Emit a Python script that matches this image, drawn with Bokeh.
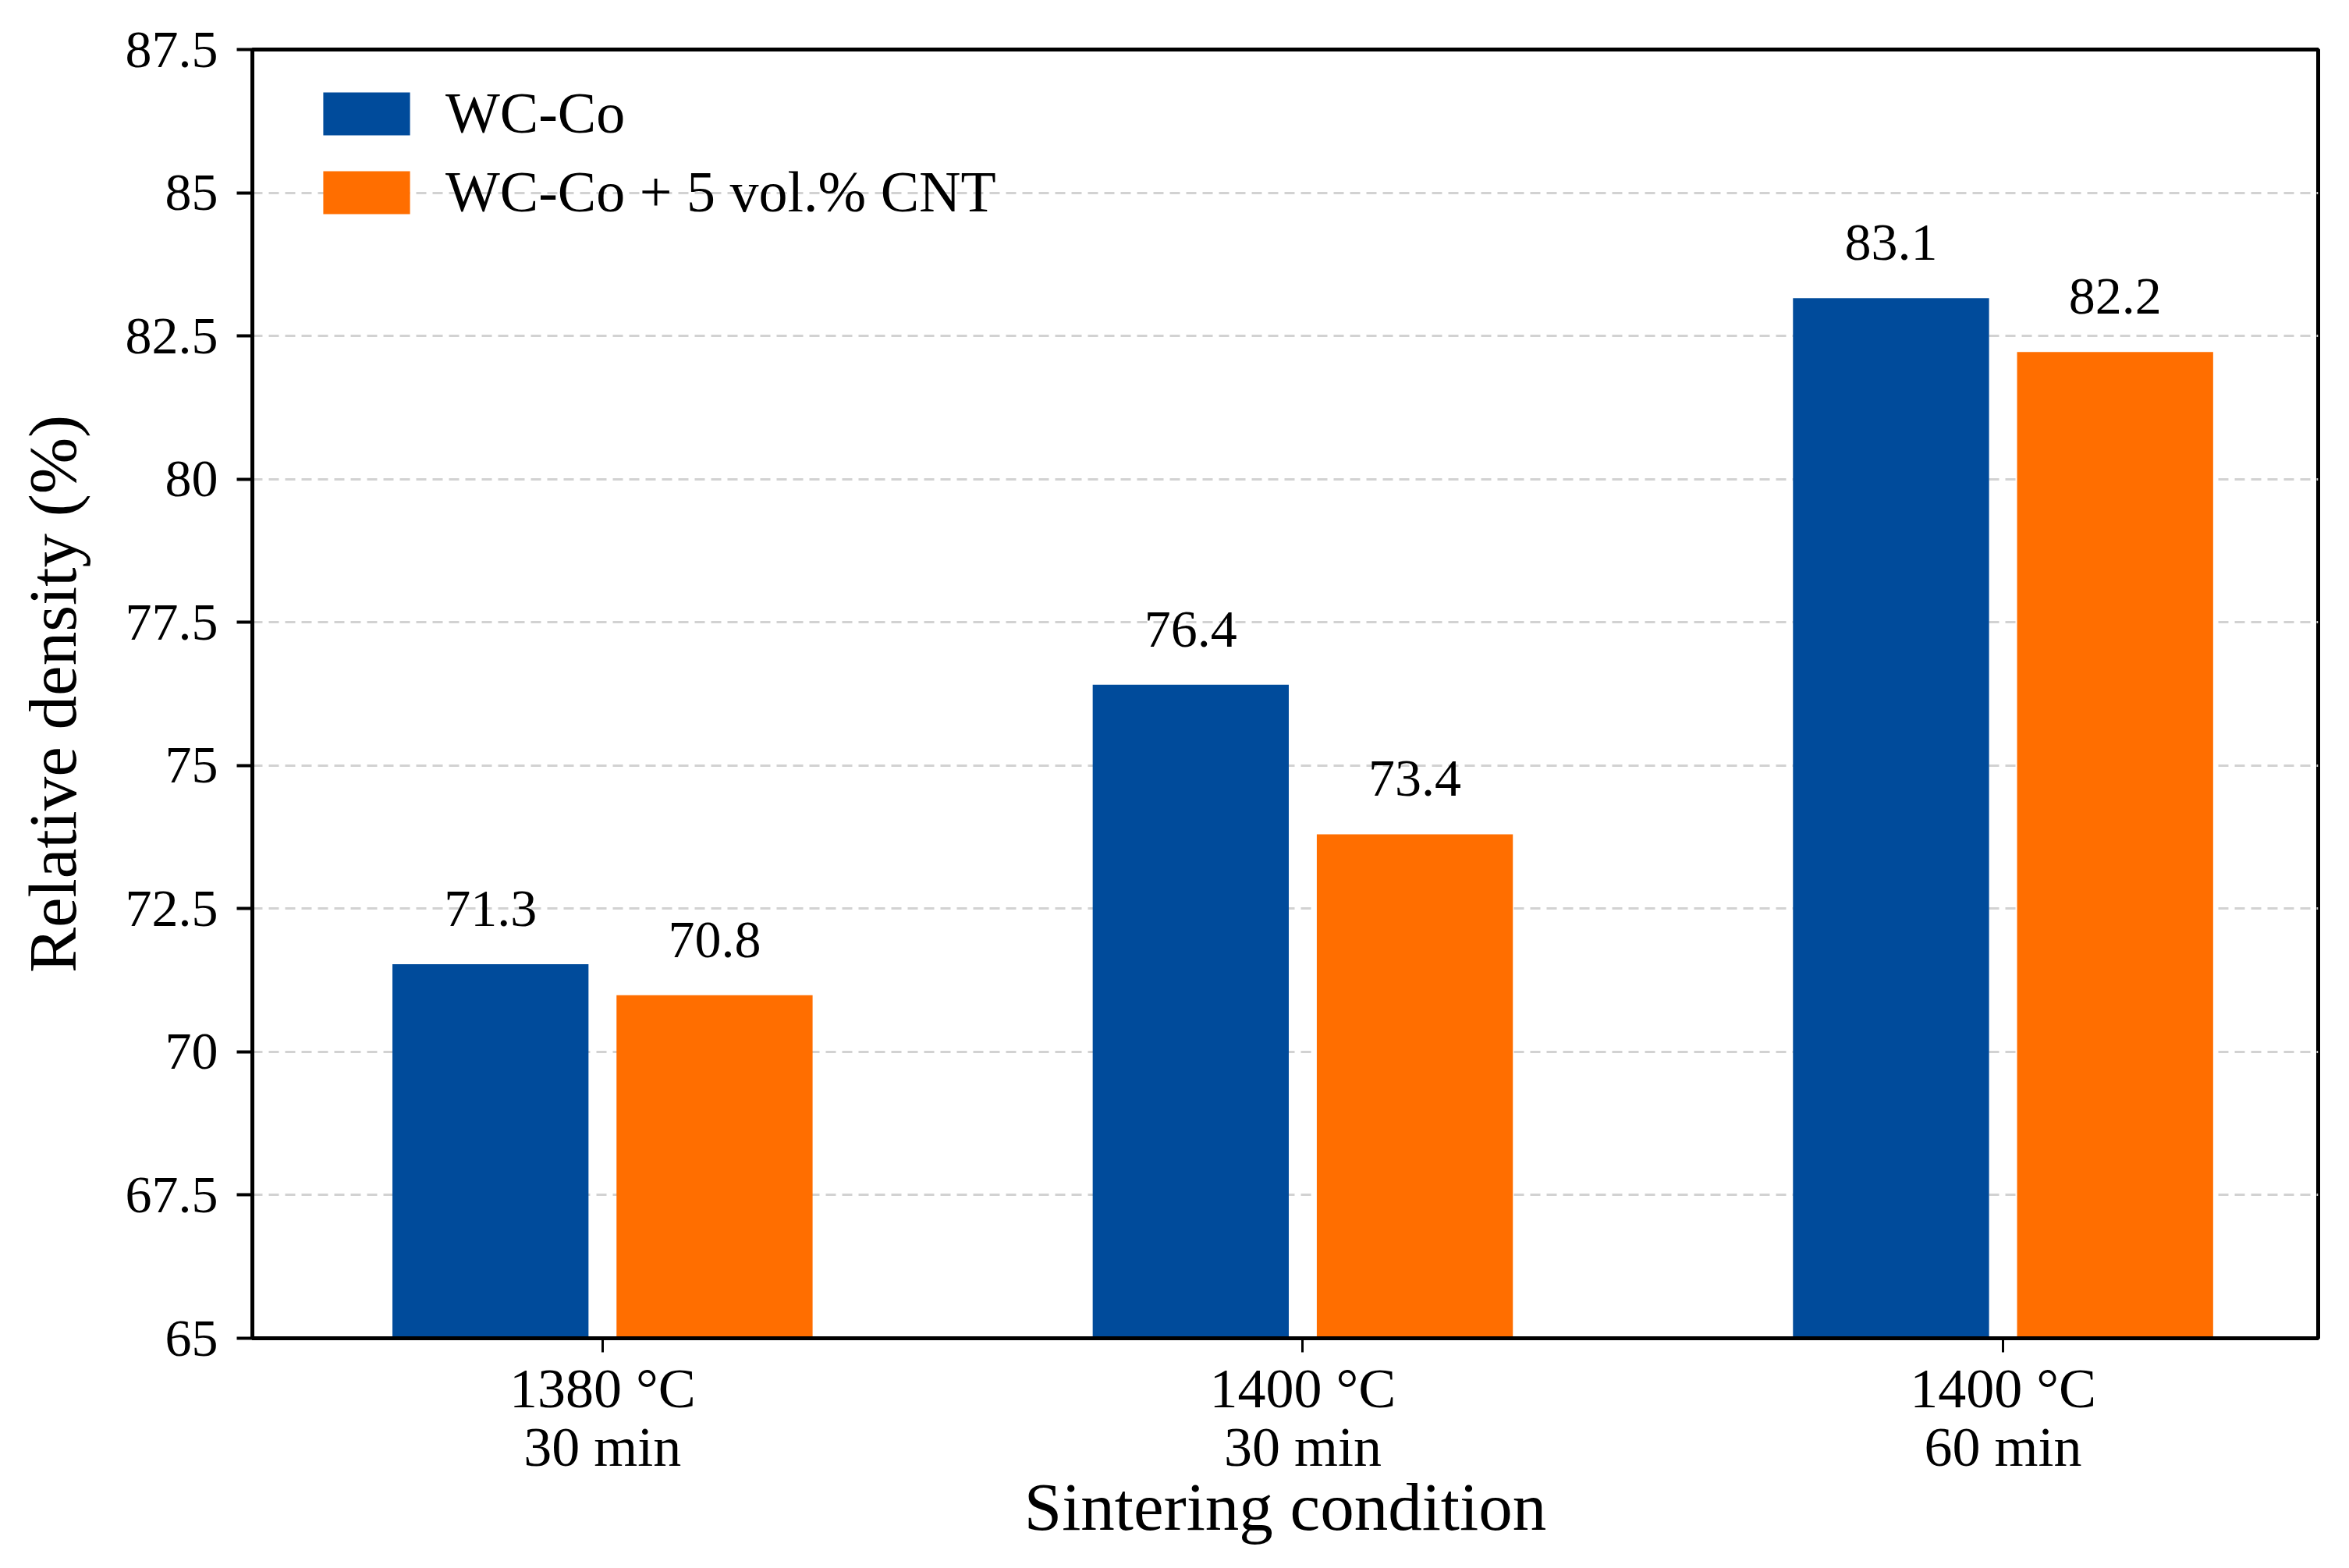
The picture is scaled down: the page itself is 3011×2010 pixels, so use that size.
from bokeh.plotting import figure
from bokeh.models import Range1d, FixedTicker, Legend, LegendItem, ColumnDataSource
from bokeh.transform import dodge
from bokeh.core.properties import value
from bokeh.embed import file_html
from bokeh.resources import INLINE

# ---- data ----
conditions = ["1380 °C\n30 min", "1400 °C\n30 min", "1400 °C\n60 min"]
series_names = ["WC-Co", "WC-Co + 5 vol.% CNT"]
wc_co = [71.53, 76.41, 83.16]
wc_co_cnt = [70.99, 73.80, 82.22]
wc_co_labels = ["71.3", "76.4", "83.1"]
wc_co_cnt_labels = ["70.8", "73.4", "82.2"]
y_ticks = [65, 67.5, 70, 72.5, 75, 77.5, 80, 82.5, 85, 87.5]
x_label = "Sintering condition"
y_label = "Relative density (%)"

# ---- style ----
FONT = "Liberation Serif"
BLUE = "#004B9B"
ORANGE = "#FF6E00"

pos = list(range(len(conditions)))
src = ColumnDataSource(dict(x=pos, a=wc_co, b=wc_co_cnt, la=wc_co_labels, lb=wc_co_cnt_labels))

p = figure(width=2995, height=1994, output_backend="svg", toolbar_location=None,
           x_range=Range1d(-0.5, 2.45), y_range=Range1d(y_ticks[0], y_ticks[-1]),
           min_border_left=323, min_border_right=24, min_border_top=63, min_border_bottom=279)
p.background_fill_color = "white"
p.border_fill_color = "white"
p.outline_line_color = "black"
p.outline_line_width = 5

off = 0.16
w = 0.28
ra = p.vbar(x=dodge('x', -off), top='a', bottom=0, width=w, source=src, fill_color=BLUE, line_color=None)
rb = p.vbar(x=dodge('x', off), top='b', bottom=0, width=w, source=src, fill_color=ORANGE, line_color=None)

for col, lab, d in (("a", "la", -off), ("b", "lb", off)):
    p.text(x=dodge('x', d), y=col, text=lab, source=src, text_align="center",
           text_baseline="alphabetic", y_offset=-71, text_font=value(FONT),
           text_font_size="68px", text_color="black")

# axes
p.xaxis.ticker = FixedTicker(ticks=pos)
p.xaxis.major_label_overrides = {i: c for i, c in zip(pos, conditions)}
p.yaxis.ticker = FixedTicker(ticks=y_ticks)
p.yaxis.major_label_overrides = {t: f"{t:g}" for t in y_ticks}
p.xaxis.axis_label = x_label
p.yaxis.axis_label = y_label
for ax in (p.xaxis, p.yaxis):
    ax.axis_line_color = "black"
    ax.axis_line_width = 5
    ax.major_tick_in = 0
    ax.minor_tick_line_color = None
    ax.major_label_text_font = FONT
    ax.axis_label_text_font = FONT
    ax.axis_label_text_font_style = "normal"
    ax.axis_label_text_font_size = "87px"
    ax.major_label_text_color = "black"
    ax.axis_label_text_color = "black"
    ax.major_tick_line_color = "black"
p.yaxis.major_tick_out = 20
p.yaxis.major_tick_line_width = 4
p.yaxis.major_label_text_font_size = "68px"
p.yaxis.major_label_standoff = 24
p.yaxis.axis_label_standoff = 42
p.xaxis.major_tick_out = 18
p.xaxis.major_tick_line_width = 3
p.xaxis.major_label_text_font_size = "72px"
p.xaxis.major_label_text_line_height = 0.94
p.xaxis.major_label_standoff = 6
p.xaxis.axis_label_standoff = -15

p.xgrid.visible = False
p.ygrid.grid_line_color = "#d2d2d2"
p.ygrid.grid_line_width = 3
p.ygrid.grid_line_dash = "13 8"

legend = Legend(items=[LegendItem(label=series_names[0], renderers=[ra]),
                       LegendItem(label=series_names[1], renderers=[rb])],
                location=(77, 1426))
legend.margin = 0
legend.padding = 0
legend.border_line_color = None
legend.background_fill_alpha = 0
legend.glyph_width = 139
legend.glyph_height = 69
legend.label_standoff = 32
legend.spacing = 16
legend.label_text_font = FONT
legend.label_text_font_size = "74px"
legend.label_text_color = "black"
p.add_layout(legend)

open("out.html", "w").write(file_html(p, INLINE))
